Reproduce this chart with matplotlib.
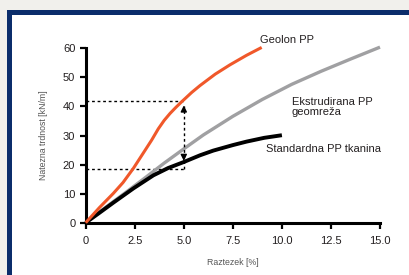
import numpy as np
import matplotlib.pyplot as plt
from matplotlib.patches import Rectangle

# curve values (strain %, strength kN/m)
geolon_x = [0, 0.7, 1.41, 1.9, 2.43, 2.9, 3.36, 3.7, 4.0, 4.3, 4.6, 4.89, 5.4, 5.83, 6.6, 7.35, 8.2, 8.97]
geolon_y = [0, 5.2, 10.1, 13.8, 18.7, 23.6, 28.4, 32.3, 35.2, 37.6, 39.7, 41.6, 44.8, 47.2, 51.1, 54.3, 57.6, 60.3]

ekstr_x = [0, 1.0, 2.0, 3.0, 4.0, 5.0, 6.0, 7.5, 9.0, 10.5, 12.0, 13.5, 15.0]
ekstr_y = [0, 5.2, 10.2, 15.3, 20.5, 25.4, 30.2, 36.6, 42.4, 47.6, 52.1, 56.3, 60.4]

std_x = [0, 0.7, 1.41, 2.43, 3.45, 4.2, 4.97, 5.83, 6.5, 7.5, 8.2, 9.1, 10.0]
std_y = [0, 3.4, 6.9, 11.8, 16.3, 18.8, 20.8, 23.2, 24.8, 26.7, 27.9, 29.2, 30.1]

xticks = [0, 2.5, 5.0, 7.5, 10.0, 12.5, 15.0]
xticklabels = ['0', '2.5', '5.0', '7.5', '10.0', '12.5', '15.0']
yticks = [0, 10, 20, 30, 40, 50, 60]

font = 'Liberation Sans'

fig = plt.figure(figsize=(4.09, 2.75), dpi=100, facecolor='#f1f0ec')
W, H = 409, 275

# background axes for the blue frame
bg = fig.add_axes([0, 0, 1, 1], zorder=-1)
bg.set_xlim(0, W)
bg.set_ylim(H, 0)
bg.axis('off')
bg.add_patch(Rectangle((7, 10), W, H, facecolor='white', edgecolor='none'))
bg.add_patch(Rectangle((7, 10), 5, H, facecolor='#0b2d6b', edgecolor='none'))
bg.add_patch(Rectangle((7, 10), W, 5, facecolor='#0b2d6b', edgecolor='none'))

ax = fig.add_axes([85.7 / W, 1 - 222.7 / H, (380 - 85.7) / W, (222.7 - 48.3) / H], zorder=2)
ax.set_facecolor('none')

ax.plot(ekstr_x, ekstr_y, color='#a0a0a2', lw=2.4, solid_capstyle='butt', zorder=2, clip_on=False)
ax.plot(std_x, std_y, color='black', lw=2.8, solid_capstyle='butt', zorder=3, clip_on=False)
ax.plot(geolon_x, geolon_y, color='#f0582a', lw=2.2, solid_capstyle='butt', zorder=4, clip_on=False)

# dashed guide lines and arrows
ax.plot([0, 5], [41.9, 41.9], color='black', lw=1, ls=(0, (2, 2)), zorder=1)
ax.plot([0, 5], [18.5, 18.5], color='black', lw=1, ls=(0, (2, 2)), zorder=1)
ax.plot([5, 5], [18.5, 40], color='black', lw=1, ls=(0, (2, 2)), zorder=5)
ax.annotate('', xy=(5, 41.3), xytext=(5, 38), zorder=6,
            arrowprops=dict(arrowstyle='-|>', color='black', lw=1, mutation_scale=9))
ax.annotate('', xy=(5, 20.3), xytext=(5, 23.5), zorder=6,
            arrowprops=dict(arrowstyle='-|>', color='black', lw=1, mutation_scale=9))

tf = dict(family=font, fontsize=8, color='#231f20')
ax.text(8.88, 62.8, 'Geolon PP', ha='left', va='center', **tf)
ax.text(10.5, 39.7, 'Ekstrudirana PP\ngeomreža', ha='left', va='center', linespacing=1.0, **tf)
ax.text(9.19, 25.2, 'Standardna PP tkanina', ha='left', va='center', **tf)

ax.set_xlim(0, 15)
ax.set_ylim(0, 60)
ax.set_xticks(xticks)
ax.set_xticklabels(xticklabels, family=font)
ax.set_yticks(yticks)
ax.set_yticklabels([str(v) for v in yticks], family=font)
for s in ['top', 'right']:
    ax.spines[s].set_visible(False)
for s in ['left', 'bottom']:
    ax.spines[s].set_linewidth(2.2)
ax.tick_params(direction='out', length=4.5, width=1.6, labelsize=8, color='black', labelcolor='#231f20')
ax.tick_params(axis='x', pad=5)
ax.tick_params(axis='y', pad=3)
ax.set_xlabel('Raztezek [%]', family=font, fontsize=6.3, color='#555555', labelpad=9)
ax.set_ylabel('Natezna trdnost [kN/m]', family=font, fontsize=6.3, color='#555555', labelpad=11)

fig.savefig('out.png', dpi=100, facecolor=fig.get_facecolor())
